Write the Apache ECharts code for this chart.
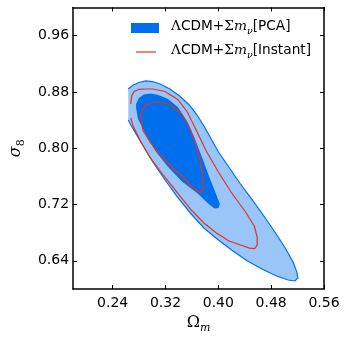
<!DOCTYPE html>
<html>
<head>
<meta charset="utf-8">
<script src="https://cdn.jsdelivr.net/npm/echarts@6/dist/echarts.min.js"></script>
<style>html,body{margin:0;padding:0;background:#fff}#main{width:346px;height:346px}</style>
</head>
<body>
<div id="main"></div>
<script>
var xTicks = [0.24, 0.32, 0.40, 0.48, 0.56]
var yTicks = [0.64, 0.72, 0.80, 0.88, 0.96]

// PCA 95% contour (left side cut at the prior edge)
var pca2 = [[0.2636,0.8842],[0.2710,0.8899],[0.2798,0.8934],[0.2900,0.8956],[0.3003,0.8948],[0.3120,0.8913],
  [0.3267,0.8842],[0.3414,0.8742],[0.3561,0.8615],[0.3678,0.8472],[0.3781,0.8316],[0.3883,0.8146],[0.4001,0.7947],
  [0.4148,0.7748],[0.4324,0.7506],[0.4514,0.7265],[0.4690,0.7037],[0.4866,0.6796],[0.5013,0.6582],[0.5131,0.6384],
  [0.5189,0.6241],[0.5204,0.6156],[0.5160,0.6114],[0.5057,0.6128],[0.4881,0.6185],[0.4661,0.6284],[0.4441,0.6398],
  [0.4221,0.6540],[0.4001,0.6696],[0.3781,0.6867],[0.3575,0.7080],[0.3370,0.7321],[0.3194,0.7549],[0.3018,0.7790],
  [0.2871,0.8018],[0.2754,0.8202],[0.2666,0.8345],[0.2636,0.8401]]
// PCA 68% contour
var pca1 = [[0.2754,0.8629],[0.2798,0.8714],[0.2871,0.8764],[0.2974,0.8778],[0.3091,0.8757],[0.3238,0.8700],
  [0.3385,0.8586],[0.3517,0.8401],[0.3634,0.8160],[0.3751,0.7876],[0.3869,0.7577],[0.3971,0.7336],[0.4023,0.7208],
  [0.4001,0.7151],[0.3942,0.7144],[0.3854,0.7208],[0.3678,0.7364],[0.3458,0.7520],[0.3238,0.7733],[0.3047,0.7961],
  [0.2900,0.8202],[0.2783,0.8416],[0.2754,0.8572]]
// Instant 95% contour (open at the prior edge)
var inst2 = [[0.2673,0.8629],[0.2688,0.8742],[0.2724,0.8806],[0.2798,0.8838],[0.2900,0.8842],[0.3003,0.8842],
  [0.3194,0.8806],[0.3385,0.8693],[0.3531,0.8515],[0.3678,0.8231],[0.3825,0.7947],[0.4001,0.7662],[0.4192,0.7378],
  [0.4412,0.7094],[0.4544,0.6895],[0.4588,0.6739],[0.4588,0.6625],[0.4551,0.6575],[0.4470,0.6582],[0.4338,0.6625],
  [0.4162,0.6682],[0.3971,0.6796],[0.3781,0.6938],[0.3590,0.7122],[0.3385,0.7364],[0.3164,0.7620],[0.2959,0.7876],
  [0.2812,0.8117],[0.2710,0.8316],[0.2673,0.8430]]
// Instant 68% contour
var inst1 = [[0.2996,0.8650],[0.2900,0.8615],[0.2842,0.8543],[0.2827,0.8444],[0.2856,0.8259],[0.2974,0.8075],
  [0.3120,0.7904],[0.3297,0.7733],[0.3487,0.7570],[0.3649,0.7407],[0.3737,0.7371],[0.3773,0.7421],[0.3766,0.7577],
  [0.3722,0.7833],[0.3649,0.8089],[0.3546,0.8330],[0.3414,0.8515],[0.3253,0.8622],[0.3120,0.8657]]

var blueDark = '#006FED', blueLight = '#99C5F8', red = '#E03424'

function contour(pts, closed, fill, stroke, lw) {
    return {
        type: 'custom',
        silent: true,
        data: pts,
        encode: {x: 0, y: 1},
        renderItem: function (params, api) {
            if (params.dataIndex > 0) return
            var p = pts.map(function (d) { return api.coord(d) })
            return {
                type: closed ? 'polygon' : 'polyline',
                shape: {points: p},
                style: {fill: fill || 'none', stroke: stroke || 'none', lineWidth: lw || 0}
            }
        }
    }
}

var sans = 'DejaVu Sans', serif = 'DejaVu Serif'
var legRich = {
    n: {fontFamily: sans, fontSize: 13.7, color: '#000', verticalAlign: 'bottom', padding: [0, 0, 3, 0]},
    s: {fontFamily: serif, fontSize: 13.7, color: '#000', verticalAlign: 'bottom', padding: [0, 0, 3, 0]},
    i: {fontFamily: serif, fontStyle: 'italic', fontSize: 13.7, color: '#000', verticalAlign: 'bottom', padding: [0, 0, 3, 0]},
    sub: {fontFamily: serif, fontStyle: 'italic', fontSize: 9.5, color: '#000', verticalAlign: 'bottom'}
}

var myChart = echarts.init(document.getElementById('main'))
var axLine = {lineStyle: {color: '#000', width: 1.5}}
option = {
    animation: false,
    grid: {left: 65, right: 22, top: 7.5, bottom: 57},
    xAxis: [{
        type: 'value', min: 0.18, max: 0.56, position: 'bottom',
        axisLine: axLine, splitLine: {show: false},
        axisTick: {inside: true, length: 4, customValues: xTicks, lineStyle: {color: '#000'}},
        axisLabel: {customValues: xTicks, margin: 7, fontFamily: sans, fontSize: 14, color: '#000',
            formatter: function (v) { return v.toFixed(2) }},
        name: '{o|Ω}{m|m}', nameLocation: 'middle', nameGap: 26,
        nameTextStyle: {rich: {
            o: {fontFamily: serif, fontSize: 16, color: '#000', verticalAlign: 'bottom', padding: [0, 0, 3, 0]},
            m: {fontFamily: serif, fontStyle: 'italic', fontSize: 11, color: '#000', verticalAlign: 'bottom'}
        }}
    }, {
        type: 'value', min: 0.18, max: 0.56, position: 'top',
        axisLine: axLine, splitLine: {show: false},
        axisTick: {inside: true, length: 4, customValues: xTicks, lineStyle: {color: '#000'}},
        axisLabel: {show: false}
    }],
    yAxis: [{
        type: 'value', min: 0.60, max: 1.00, position: 'left',
        axisLine: axLine, splitLine: {show: false},
        axisTick: {inside: true, length: 4, customValues: yTicks, lineStyle: {color: '#000'}},
        axisLabel: {customValues: yTicks, margin: 4, fontFamily: sans, fontSize: 14, color: '#000',
            formatter: function (v) { return v.toFixed(2) }},
        name: '{s|σ}{n|8}', nameLocation: 'middle', nameGap: 46, nameRotate: 90,
        nameTextStyle: {rich: {
            s: {fontFamily: serif, fontStyle: 'italic', fontSize: 16, color: '#000', verticalAlign: 'bottom', padding: [0, 0, 3, 0]},
            n: {fontFamily: serif, fontSize: 11, color: '#000', verticalAlign: 'bottom'}
        }}
    }, {
        type: 'value', min: 0.60, max: 1.00, position: 'right',
        axisLine: axLine, splitLine: {show: false},
        axisTick: {inside: true, length: 4, customValues: yTicks, lineStyle: {color: '#000'}},
        axisLabel: {show: false}
    }],
    graphic: [
        {type: 'rect', shape: {x: 131, y: 23, width: 28, height: 10}, style: {fill: blueDark}},
        {type: 'line', shape: {x1: 136, y1: 52, x2: 156, y2: 52}, style: {stroke: red, lineWidth: 1.2}},
        {type: 'text', x: 171, y: 28, style: {text: '{s|Λ}{n|CDM+}{s|Σ}{i|m}{sub|ν}{n|[PCA]}',
            rich: legRich, verticalAlign: 'middle'}},
        {type: 'text', x: 171, y: 52, style: {text: '{s|Λ}{n|CDM+}{s|Σ}{i|m}{sub|ν}{n|[Instant]}',
            rich: legRich, verticalAlign: 'middle'}}
    ],
    series: [
        contour(pca2, true, blueLight, null, 0),
        contour(pca2, false, null, blueDark, 1.2),
        contour(pca1, true, blueDark, null, 0),
        contour(inst2, false, null, red, 1.2),
        contour(inst1, true, null, red, 1.2)
    ]
}
myChart.setOption(option)
</script>
</body>
</html>
